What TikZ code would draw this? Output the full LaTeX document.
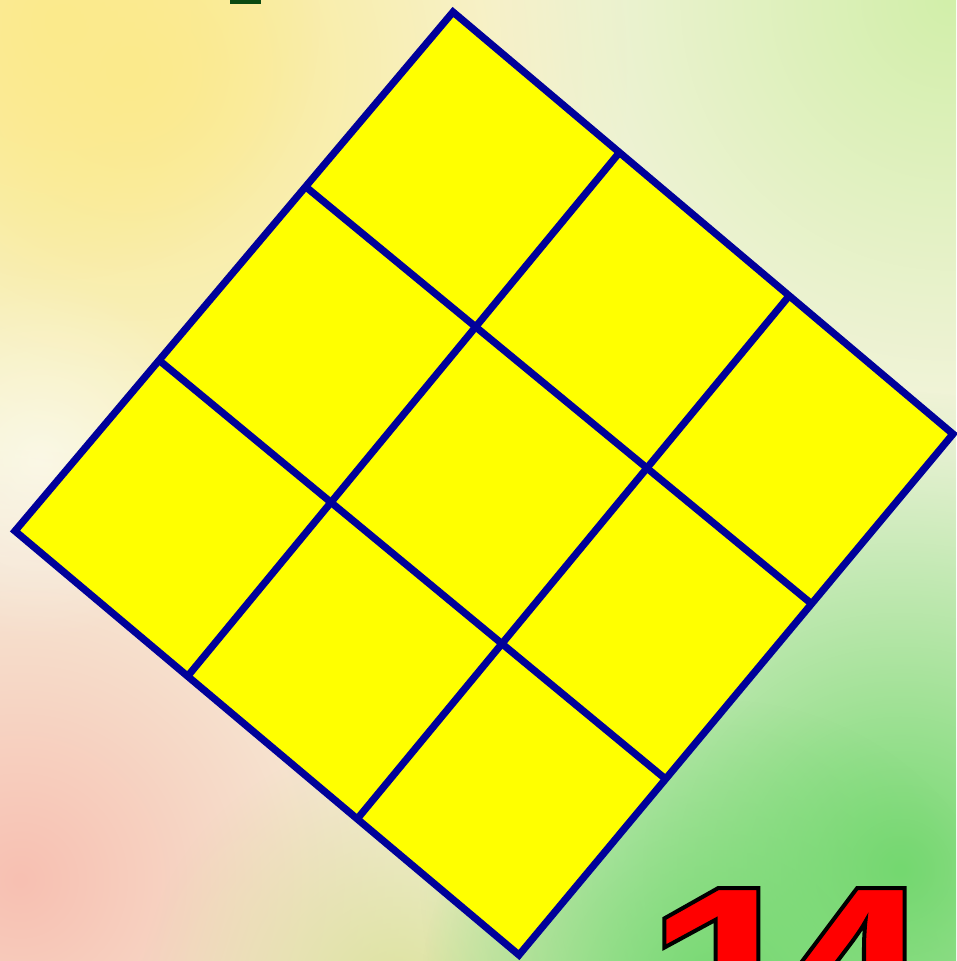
\documentclass[tikz,border=0pt]{standalone}
\usepackage{fontspec}
\newfontfamily\numfont{Liberation Sans}[FakeStretch=1.15]
\usetikzlibrary{fadings}
\tikzfading[name=softblob, inner color=transparent!0, outer color=transparent!100]
\definecolor{basecol}{HTML}{F5F4DE}
\definecolor{yel}{HTML}{FCEA8C}
\definecolor{pinkc}{HTML}{F8C0B2}
\definecolor{greenc}{HTML}{74D870}
\definecolor{palegreen}{HTML}{D2EFAA}
\definecolor{olivec}{HTML}{DCE29E}
\definecolor{gridblue}{HTML}{00009A}
\definecolor{cellyellow}{HTML}{FFFF00}
\definecolor{textgreen}{HTML}{0B4A12}
\tikzset{
  blob/.style={fill=#1, path fading=softblob},
  gridline/.style={draw=gridblue, line width=7.2pt, line join=miter, line cap=butt},
  numtext/.style={text=red, inner sep=0pt, anchor=north west, font=\numfont\bfseries\fontsize{270}{270}\selectfont}
}
\newcommand{\outlined}[1]{\special{pdf:code 2 Tr 4 w 0 0 0 RG}#1\special{pdf:code 0 Tr}}
\begin{document}
\begin{tikzpicture}[x=1pt,y=-1pt]
\useasboundingbox (0,0) rectangle (956,961);
\begin{scope}
\clip (0,0) rectangle (956,961);
\fill[basecol] (0,0) rectangle (956,961);
\fill[blob=yel] (130,70) circle (500);
\fill[blob=yel] (60,20) circle (260);
\fill[blob=palegreen] (950,0) circle (450);
\fill[blob=pinkc] (20,880) circle (430);
\fill[blob=olivec] (400,1000) circle (260);
\fill[blob=greenc] (900,870) circle (480);
\fill[blob=greenc] (720,1000) circle (300);
\fill[blob=white, opacity=0.5] (560,520) circle (260);
\fill[blob=white, opacity=0.5] (40,460) circle (180);
\fill[textgreen] (230,0) rectangle (261,4);

% the "14"
\node[numtext] (num) at (643,888) {\outlined{1\kern-54pt 4}};
\end{scope}

% corners of the board
\coordinate (T) at (453,12);
\coordinate (R) at (953,434);
\coordinate (B) at (519,955);
\coordinate (L) at (15,531);
% points on the edges
\coordinate (tr1) at (619,153);
\coordinate (tr2) at (789,296);
\coordinate (tl1) at (306,187);
\coordinate (tl2) at (160,361);
\coordinate (bl1) at (187,677);
\coordinate (bl2) at (358,818);
\coordinate (br1) at (813,605);
\coordinate (br2) at (668,781);

\fill[cellyellow] (T) -- (R) -- (B) -- (L) -- cycle;
\draw[gridline] (tr1) -- (bl1);
\draw[gridline] (tr2) -- (bl2);
\draw[gridline] (tl1) -- (br1);
\draw[gridline] (tl2) -- (br2);
\draw[gridline] (T) -- (R) -- (B) -- (L) -- cycle;
\end{tikzpicture}
\end{document}
